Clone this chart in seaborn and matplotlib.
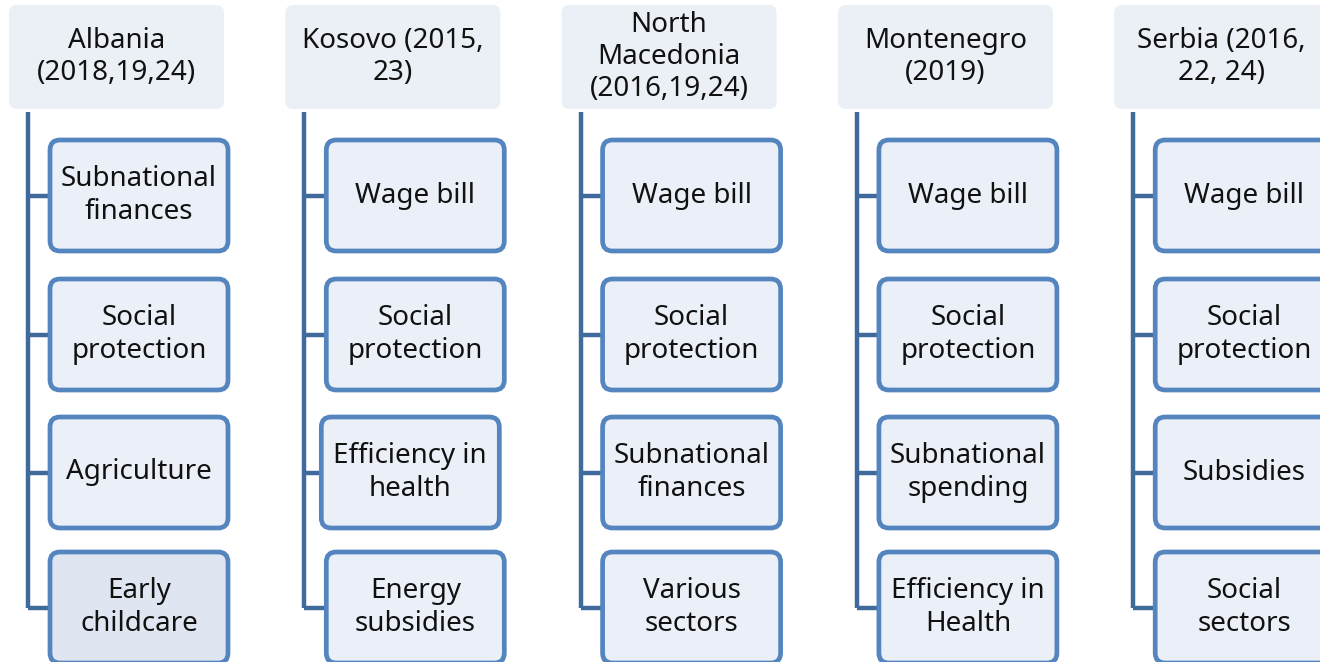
import matplotlib
matplotlib.use("Agg")
import matplotlib.pyplot as plt
import seaborn as sns
from matplotlib.patches import FancyBboxPatch

# header of each column
countries = ["Albania\n(2018,19,24)", "Kosovo (2015,\n23)", "North\nMacedonia\n(2016,19,24)",
             "Montenegro\n(2019)", "Serbia (2016,\n22, 24)"]
# topics below each header
albania = ["Subnational\nfinances", "Social\nprotection", "Agriculture", "Early\nchildcare"]
kosovo = ["Wage bill", "Social\nprotection", "Efficiency in\nhealth", "Energy\nsubsidies"]
north_macedonia = ["Wage bill", "Social\nprotection", "Subnational\nfinances", "Various\nsectors"]
montenegro = ["Wage bill", "Social\nprotection", "Subnational\nspending", "Efficiency in\nHealth"]
serbia = ["Wage bill", "Social\nprotection", "Subsidies", "Social\nsectors"]
topics = [albania, kosovo, north_macedonia, montenegro, serbia]

sns.set_theme(style="white")
plt.rcParams['font.family'] = ['Noto Sans', 'DejaVu Sans']

line_col = "#40699C"
edge_col = "#5585BF"
fill_col = "#EBF0F8"
head_col = "#EBEFF6"

fig = plt.figure(figsize=(13.2, 6.62), dpi=100)
ax = fig.add_axes([0, 0, 1, 1])
ax.set_xlim(0, 1320)
ax.set_ylim(662, 0)
ax.axis("off")

col_step = 276.3
head_w, head_h = 215, 104
box_w, box_h = 178, 111
box_tops = [140, 279, 417, 552]

for i, (head, items) in enumerate(zip(countries, topics)):
    x0 = 9 + i * col_step
    ax.add_patch(FancyBboxPatch((x0, 5), head_w, head_h,
                                boxstyle="round,pad=0,rounding_size=8",
                                fc=head_col, ec="none", zorder=1))
    ax.text(x0 + head_w / 2, 57, head, ha="center", va="center",
            fontsize=20, linespacing=1.18, color="#111111", zorder=3)
    lx = x0 + 19
    mids = [t + box_h / 2 for t in box_tops]
    ax.plot([lx, lx], [112, mids[-1]], color=line_col, lw=3.2,
            solid_capstyle="butt", zorder=1)
    for j, (item, top) in enumerate(zip(items, box_tops)):
        bx = x0 + 41
        if i == 1 and j == 2:
            bx -= 5
        fc = "#DFE6F1" if (i == 0 and j == 3) else fill_col
        ax.plot([lx, bx], [mids[j], mids[j]], color=line_col, lw=3.2,
                solid_capstyle="butt", zorder=1)
        ax.add_patch(FancyBboxPatch((bx, top), box_w, box_h,
                                    boxstyle="round,pad=0,rounding_size=10",
                                    fc=fc, ec=edge_col, lw=3.4, zorder=2))
        ax.text(bx + box_w / 2, top + box_h / 2, item, ha="center", va="center",
                fontsize=20, linespacing=1.2, color="#111111", zorder=3)

fig.savefig("out.png", dpi=100)
